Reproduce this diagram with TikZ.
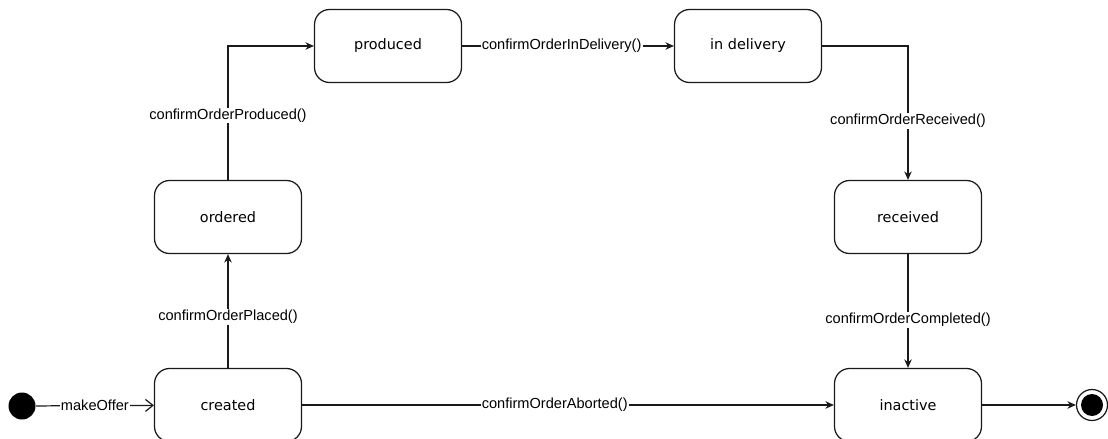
\documentclass[tikz,border=0pt]{standalone}
\usepackage{fontspec}
\setmainfont{Liberation Sans}
\newfontfamily\statefont{DejaVu Sans}
\usetikzlibrary{positioning,arrows.meta}
\definecolor{smline}{HTML}{1A1A1A}
\tikzset{
  state/.style  ={draw=smline, rounded corners=0.3cm, minimum width=2.94cm,
                  minimum height=1.46cm, line width=0.7pt, fill=white,
                  font=\statefont\fontsize{8.2}{10}\selectfont},
  initial/.style={circle, fill=black, minimum size=0.54cm, inner sep=0pt},
  final/.style  ={circle, draw=smline, line width=0.7pt, minimum size=0.62cm,
                  inner sep=0pt, path picture={\fill[black]
                  (path picture bounding box.center) circle (0.22cm);}},
  trans/.style  ={-{Stealth[length=1.7mm,width=1.5mm]}, line width=0.7pt, draw=smline},
  event/.style  ={-{Straight Barb[length=1.5mm,width=2.4mm]}, line width=0.7pt, draw=smline},
  lbl/.style    ={fill=white, inner sep=0.6pt, font=\fontsize{8.3}{10}\selectfont},
}

\begin{document}
\begin{tikzpicture}[x=0.02cm, y=-0.02cm]
  \useasboundingbox (0,0) rectangle (1108,439);
  % states
  \node[initial] (start) at (22,406) {};
  \node[state] (created)    at (228,405) {created};
  \node[state] (ordered)    at (228,217) {ordered};
  \node[state] (produced)   at (388,46)  {produced};
  \node[state] (indelivery) at (748,46)  {in delivery};
  \node[state] (received)   at (908,217) {received};
  \node[state] (inactive)   at (908,405) {inactive};
  \node[final] (stop)       at (1092,405) {};
  % transitions
  \draw[event] (start) -- node[lbl] {makeOffer} (created);
  \draw[trans] (created) -- node[lbl, pos=0.45] {confirmOrderPlaced()} (ordered);
  \draw[trans] (ordered) |- node[lbl, pos=0.24] {confirmOrderProduced()} (produced);
  \draw[trans] (produced) -- node[lbl, pos=0.47] {confirmOrderInDelivery()} (indelivery);
  \draw[trans] (indelivery) -| node[lbl, pos=0.78] {confirmOrderReceived()} (received);
  \draw[trans] (received) -- node[lbl, pos=0.58] {confirmOrderCompleted()} (inactive);
  \draw[trans] (created) -- node[lbl, pos=0.475] {confirmOrderAborted()} (inactive);
  \draw[trans] (inactive) -- (stop);
\end{tikzpicture}
\end{document}
